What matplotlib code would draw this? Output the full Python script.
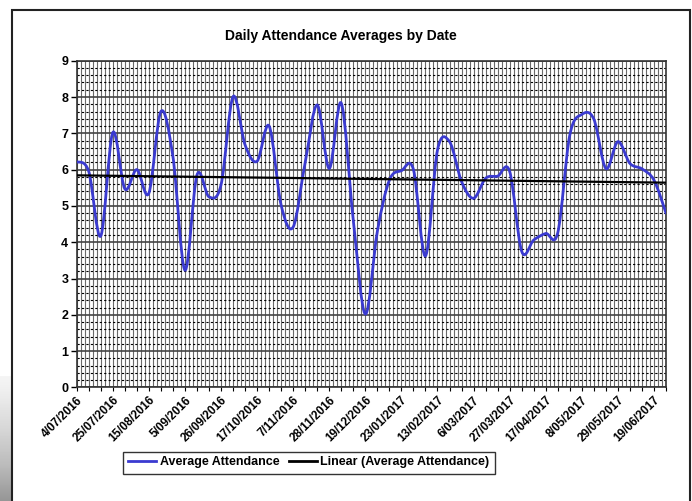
import numpy as np
import matplotlib
matplotlib.use('Agg')
import matplotlib.pyplot as plt
from matplotlib.path import Path
from matplotlib.patches import PathPatch, Rectangle
from matplotlib.lines import Line2D

# ---- data ----
dates = [
    "4/07/2016", "11/07/2016", "18/07/2016", "25/07/2016", "1/08/2016",
    "8/08/2016", "15/08/2016", "22/08/2016", "29/08/2016", "5/09/2016",
    "12/09/2016", "19/09/2016", "26/09/2016", "3/10/2016", "10/10/2016",
    "17/10/2016", "24/10/2016", "31/10/2016", "7/11/2016", "14/11/2016",
    "21/11/2016", "28/11/2016", "5/12/2016", "12/12/2016", "19/12/2016",
    "9/01/2017", "16/01/2017", "23/01/2017", "30/01/2017", "6/02/2017",
    "13/02/2017", "20/02/2017", "27/02/2017", "6/03/2017", "13/03/2017",
    "20/03/2017", "27/03/2017", "3/04/2017", "10/04/2017", "17/04/2017",
    "24/04/2017", "1/05/2017", "8/05/2017", "15/05/2017", "22/05/2017",
    "29/05/2017", "5/06/2017", "12/06/2017", "19/06/2017", "26/06/2017",
]
attendance = [
    6.22, 5.95, 4.17, 7.02, 5.47, 6.00, 5.35, 7.60, 6.36, 3.23,
    5.85, 5.25, 5.58, 8.01, 6.68, 6.23, 7.20, 5.02, 4.42, 6.20,
    7.78, 6.03, 7.83, 4.60, 2.02, 4.30, 5.71, 5.97, 6.00, 3.62,
    6.54, 6.77, 5.67, 5.21, 5.76, 5.82, 5.95, 3.75, 4.06, 4.24,
    4.26, 6.95, 7.52, 7.39, 6.03, 6.77, 6.17, 6.02, 5.71, 4.80,
]
label_every = 3
title = "Daily Attendance Averages by Date"
series_name = "Average Attendance"
trend_name = "Linear (Average Attendance)"

FONT = ['Liberation Sans Narrow', 'Liberation Sans', 'DejaVu Sans']
plt.rcParams['font.family'] = FONT
plt.rcParams['font.weight'] = 'bold'

W, H = 692, 501
fig = plt.figure(figsize=(W / 100, H / 100), dpi=100)
fig.patch.set_facecolor('white')

L, R, T, B = 76.7, 666.0, 60.7, 387.4
ax = fig.add_axes([L / W, 1 - B / H, (R - L) / W, (B - T) / H])

n = len(attendance)
x = np.arange(n, dtype=float)
y = np.array(attendance, dtype=float)

ax.set_xlim(0, n - 1)
ax.set_ylim(0, 9)

# grid
ax.vlines(np.arange(0, n - 1 + 1e-6, 1 / 3), 0, 9, colors='#6a6a6a', lw=0.8, zorder=0)
minor = [v for v in np.arange(0, 9.001, 0.2) if abs(v - round(v)) > 1e-6]
ax.hlines(minor, 0, n - 1, colors='black', lw=0.8, linestyles=(0, (2, 2)), zorder=0.5)
ax.hlines(np.arange(0, 10), 0, n - 1, colors='#444444', lw=1.2, zorder=0.6)

# smoothed line (Excel-style Bezier smoothing through data points)
pts = np.column_stack([x, y])
verts = [tuple(pts[0])]
codes = [Path.MOVETO]
for i in range(n - 1):
    p0 = pts[max(i - 1, 0)]
    p1 = pts[i]
    p2 = pts[i + 1]
    p3 = pts[min(i + 2, n - 1)]
    c1 = p1 + (p2 - p0) / 6.0
    c2 = p2 - (p3 - p1) / 6.0
    verts += [tuple(c1), tuple(c2), tuple(p2)]
    codes += [Path.CURVE4] * 3
blue = '#3a3ad0'
ax.add_patch(PathPatch(Path(verts, codes), fill=False, edgecolor=blue, lw=2.0, zorder=3,
                       capstyle='round', joinstyle='round'))

# linear trendline
coef = np.polyfit(x, y, 1)
ax.plot(x, np.polyval(coef, x), color='black', lw=1.6, zorder=4)

# axes styling
for s in ax.spines.values():
    s.set_color('#333333')
    s.set_linewidth(1.2)
ax.set_yticks(range(0, 10))
ax.set_yticklabels([str(v) for v in range(0, 10)], fontsize=9, fontweight='bold')
ax.tick_params(axis='y', length=4, width=1, pad=2)
ax.set_xticks(x, minor=True)
ax.tick_params(axis='x', which='minor', length=3, width=0.8, direction='out')
major_idx = list(range(0, n, label_every))
ax.set_xticks(major_idx)
ax.set_xticklabels([dates[i] for i in major_idx], rotation=45, ha='right',
                   rotation_mode='anchor', fontsize=8.5, fontweight='bold')
ax.tick_params(axis='x', which='major', length=3, width=0.8, pad=2)

fig.text(341 / W, 1 - 36 / H, title, ha='center', va='center', fontsize=10, fontweight='bold')

# legend
handles = [Line2D([], [], color=blue, lw=2), Line2D([], [], color='black', lw=2)]
leg = fig.legend(handles, [series_name, trend_name], loc='center',
                 bbox_to_anchor=(309 / W, 1 - 462.5 / H), ncol=2, frameon=True,
                 fancybox=False, edgecolor='black',
                 handlelength=2.2, handletextpad=0.3, columnspacing=0.8,
                 borderpad=0.4, prop={'weight': 'bold', 'size': 9})
leg.get_frame().set_linewidth(1.0)

# chart frame
fig.add_artist(Rectangle((12 / W, -0.05), (690 - 12) / W, 1.05 - 10 / H,
                         transform=fig.transFigure, fill=False, ec='#222222', lw=1.5))

# left shadow gradient
sh = fig.add_axes([0, 0, 11 / W, 125 / H])
grad = np.linspace(0, 1, 100)[:, None] * np.ones((1, 5))
sh.imshow(grad, cmap='Greys', vmin=-0.2, vmax=2.2, aspect='auto', origin='upper')
sh.axis('off')

fig.savefig('out.png', dpi=100)
